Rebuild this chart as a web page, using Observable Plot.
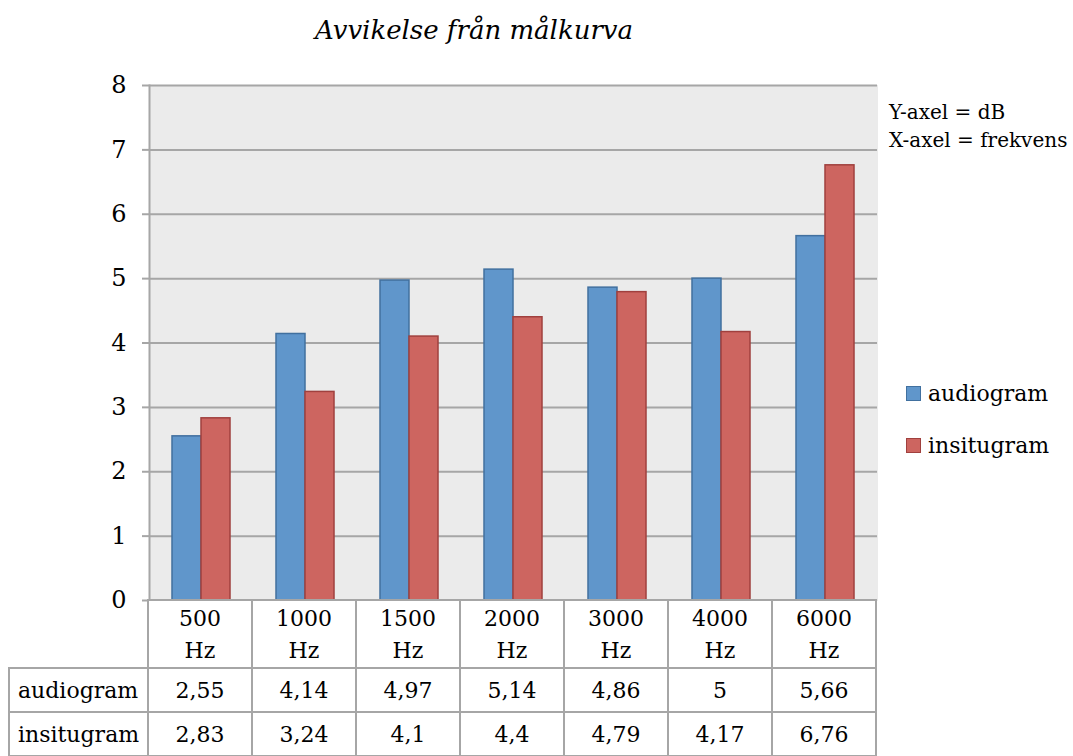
<!DOCTYPE html>
<html>
<head>
<meta charset="utf-8">
<script src="https://cdn.jsdelivr.net/npm/d3@7"></script>
<script src="https://cdn.jsdelivr.net/npm/@observablehq/plot@0.6"></script>
<style>
  html, body { margin: 0; padding: 0; background: #fff; }
  body { font-family: "DejaVu Serif", serif; color: #000; }
  #wrap { position: relative; width: 1073px; height: 756px; overflow: hidden; }
  #title { position: absolute; left: 0; top: 12px; width: 948px; text-align: center;
           font-style: italic; font-size: 26px; line-height: 36px; }
  #chart { position: absolute; left: 0; top: 60px; }
  #note { position: absolute; left: 889px; top: 98px; font-size: 20px; line-height: 28px; white-space: nowrap; }
  #legend { position: absolute; left: 906px; top: 378px; font-size: 22px; }
  .item { display: flex; align-items: center; height: 30px; margin-bottom: 22px; }
  .swatch { width: 13px; height: 13px; border: 1px solid; margin-right: 7px; }
  #datatable { position: absolute; left: 8px; top: 599px; border-collapse: collapse; font-size: 22px; }
  #datatable td { border: 2px solid #a6a6a6; text-align: center; padding: 0; background: #fff; }
  #datatable td.lab { text-align: left; padding-left: 8px; }
  #datatable td.blank { border: none; border-right: 2px solid #a6a6a6; background: transparent; }
  #datatable tr.head td { height: 64px; line-height: 32px; padding-top: 2px; }
  #datatable tr.row td { height: 42px; }
</style>
</head>
<body>
<div id="wrap">
  <div id="title">Avvikelse från målkurva</div>
  <div id="chart"></div>
  <div id="note">Y-axel = dB<br>X-axel = frekvens</div>
  <div id="legend"></div>
  <table id="datatable"></table>
</div>
<script>
// Frequencies on the x axis and the deviation (dB) for each measurement method
const frequencies = ["500 Hz", "1000 Hz", "1500 Hz", "2000 Hz", "3000 Hz", "4000 Hz", "6000 Hz"];
const seriesNames = ["audiogram", "insitugram"];
const audiogram = [2.55, 4.14, 4.97, 5.14, 4.86, 5, 5.66];
const insitugram = [2.83, 3.24, 4.1, 4.4, 4.79, 4.17, 6.76];
const yTicks = [0, 1, 2, 3, 4, 5, 6, 7, 8];

const fills = {audiogram: "#6096cb", insitugram: "#cd6560"};
const strokes = {audiogram: "#41709f", insitugram: "#a0403e"};
const gridColor = "#a6a6a6";
const plotBg = "#ebebeb";

const rows = [];
frequencies.forEach((f, i) => {
  rows.push({freq: f, series: "audiogram", value: audiogram[i]});
  rows.push({freq: f, series: "insitugram", value: insitugram[i]});
});

const bars = seriesNames.map(s =>
  Plot.barY(rows.filter(d => d.series === s), {
    fx: "freq", x: "series", y: "value",
    fill: fills[s], stroke: strokes[s], strokeWidth: 1.5
  })
);

const chart = Plot.plot({
  width: 1073,
  height: 570,
  marginLeft: 148,
  marginRight: 196,
  marginTop: 25,
  marginBottom: 30,
  style: {fontFamily: "DejaVu Serif, serif", fontSize: "24px", background: "transparent", color: "#000"},
  fx: {domain: frequencies, padding: 0, axis: null},
  x: {domain: seriesNames, paddingInner: 0, paddingOuter: 0.76, axis: null},
  y: {domain: [0, 8]},
  marks: [
    // plot area background; the matching stroke hides seams between facets
    Plot.frame({fill: plotBg, stroke: plotBg, strokeWidth: 1}),
    Plot.gridY(yTicks, {stroke: gridColor, strokeOpacity: 1, strokeWidth: 2}),
    Plot.frame({anchor: "left", facetAnchor: "left", stroke: gridColor, strokeWidth: 2}),
    Plot.axisY(yTicks, {tickSize: 7, tickPadding: 16, stroke: gridColor, strokeWidth: 2,
                        fill: "#000", fontSize: 24, label: null, tickFormat: d => String(d)}),
    ...bars,
    Plot.ruleY([0], {stroke: gridColor, strokeWidth: 2})
  ]
});
document.getElementById("chart").appendChild(chart);

// Legend
const legend = document.getElementById("legend");
seriesNames.forEach(s => {
  const item = document.createElement("div");
  item.className = "item";
  const sw = document.createElement("span");
  sw.className = "swatch";
  sw.style.background = fills[s];
  sw.style.borderColor = strokes[s];
  const label = document.createElement("span");
  label.textContent = s;
  item.append(sw, label);
  legend.appendChild(item);
});

// Data table under the chart
const fmt = v => String(v).replace(".", ",");
const table = document.getElementById("datatable");
const head = document.createElement("tr");
head.className = "head";
const blank = document.createElement("td");
blank.className = "blank";
blank.style.width = "138px";
head.appendChild(blank);
frequencies.forEach(f => {
  const td = document.createElement("td");
  td.style.width = "102px";
  const [num, unit] = f.split(" ");
  td.innerHTML = num + "<br>" + unit;
  head.appendChild(td);
});
table.appendChild(head);
[["audiogram", audiogram], ["insitugram", insitugram]].forEach(([name, values]) => {
  const tr = document.createElement("tr");
  tr.className = "row";
  const lab = document.createElement("td");
  lab.className = "lab";
  lab.textContent = name;
  tr.appendChild(lab);
  values.forEach(v => {
    const td = document.createElement("td");
    td.textContent = fmt(v);
    tr.appendChild(td);
  });
  table.appendChild(tr);
});
</script>
</body>
</html>
